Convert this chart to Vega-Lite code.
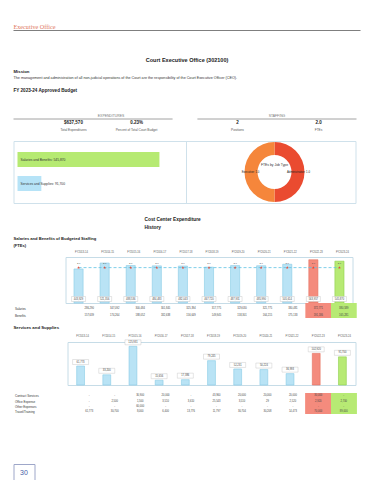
{
  "$schema": "https://vega.github.io/schema/vega-lite/v6.json",
  "background": "white",
  "padding": {"left": 12.5, "top": 23, "right": 0, "bottom": 0},
  "spacing": 0,
  "bounds": "flush",
  "config": {
    "view": {"stroke": null},
    "font": "Liberation Sans",
    "text": {"font": "Liberation Sans"},
    "title": {"font": "Liberation Sans", "subtitleFont": "Liberation Sans", "color": "#1a1a1a"},
    "axis": {"labelFont": "Liberation Sans", "titleFont": "Liberation Sans"}
  },
  "datasets": {
    "kpi": [
      {"group": "EXPENDITURES", "metric": "Total Expenditures", "value": "$637,570"},
      {"group": "EXPENDITURES", "metric": "Percent of Total Court Budget", "value": "0.23%"},
      {"group": "STAFFING", "metric": "Positions", "value": "2"},
      {"group": "STAFFING", "metric": "FTEs", "value": "2.0"}
    ],
    "groups": [{"group": "EXPENDITURES"}, {"group": "STAFFING"}],
    "budget": [
      {"category": "Salaries and Benefits", "amount": 545870, "label": "Salaries and Benefits: 545,870"},
      {"category": "Services and Supplies", "amount": 91700, "label": "Services and Supplies: 91,700"}
    ],
    "jobs": [
      {"panel": "Staffing", "jobType": "Administrative", "fte": 1.0, "label": "Administrative: 1.0"},
      {"panel": "Staffing", "jobType": "Executive", "fte": 1.0, "label": "Executive: 1.0"}
    ],
    "donutTitle": [{"panel": "Staffing", "chart": "FTEs by Job Type"}],
    "salaries": [
      {"fy": "FY2013-14", "total": 443929, "fte": 2.0, "period": "History"},
      {"fy": "FY2014-15", "total": 521356, "fte": 2.0, "period": "History"},
      {"fy": "FY2015-16", "total": 488536, "fte": 2.0, "period": "History"},
      {"fy": "FY2016-17", "total": 484483, "fte": 2.0, "period": "History"},
      {"fy": "FY2017-18", "total": 482043, "fte": 2.0, "period": "History"},
      {"fy": "FY2018-19", "total": 467720, "fte": 2.0, "period": "History"},
      {"fy": "FY2019-20", "total": 487931, "fte": 2.0, "period": "History"},
      {"fy": "FY2020-21", "total": 485990, "fte": 2.0, "period": "History"},
      {"fy": "FY2021-22", "total": 505614, "fte": 2.0, "period": "History"},
      {"fy": "FY2022-23", "total": 563957, "fte": 2.0, "period": "Prior Year"},
      {"fy": "FY2023-24", "total": 545870, "fte": 2.0, "period": "Current Year"}
    ],
    "salaryTable": [
      {"fy": "FY2013-14", "item": "Salaries", "amount": 286290, "period": "History"},
      {"fy": "FY2014-15", "item": "Salaries", "amount": 347092, "period": "History"},
      {"fy": "FY2015-16", "item": "Salaries", "amount": 300484, "period": "History"},
      {"fy": "FY2016-17", "item": "Salaries", "amount": 301845, "period": "History"},
      {"fy": "FY2017-18", "item": "Salaries", "amount": 325394, "period": "History"},
      {"fy": "FY2018-19", "item": "Salaries", "amount": 317775, "period": "History"},
      {"fy": "FY2019-20", "item": "Salaries", "amount": 329630, "period": "History"},
      {"fy": "FY2020-21", "item": "Salaries", "amount": 321775, "period": "History"},
      {"fy": "FY2021-22", "item": "Salaries", "amount": 330481, "period": "History"},
      {"fy": "FY2022-23", "item": "Salaries", "amount": 372771, "period": "Prior Year"},
      {"fy": "FY2023-24", "item": "Salaries", "amount": 380589, "period": "Current Year"},
      {"fy": "FY2013-14", "item": "Benefits", "amount": 157639, "period": "History"},
      {"fy": "FY2014-15", "item": "Benefits", "amount": 174264, "period": "History"},
      {"fy": "FY2015-16", "item": "Benefits", "amount": 188052, "period": "History"},
      {"fy": "FY2016-17", "item": "Benefits", "amount": 182638, "period": "History"},
      {"fy": "FY2017-18", "item": "Benefits", "amount": 156649, "period": "History"},
      {"fy": "FY2018-19", "item": "Benefits", "amount": 149945, "period": "History"},
      {"fy": "FY2019-20", "item": "Benefits", "amount": 158301, "period": "History"},
      {"fy": "FY2020-21", "item": "Benefits", "amount": 164215, "period": "History"},
      {"fy": "FY2021-22", "item": "Benefits", "amount": 175133, "period": "History"},
      {"fy": "FY2022-23", "item": "Benefits", "amount": 191186, "period": "Prior Year"},
      {"fy": "FY2023-24", "item": "Benefits", "amount": 165281, "period": "Current Year"}
    ],
    "services": [
      {"fy": "FY2013-14", "total": 61773, "period": "History"},
      {"fy": "FY2014-15", "total": 33200, "period": "History"},
      {"fy": "FY2015-16", "total": 125931, "period": "History"},
      {"fy": "FY2016-17", "total": 15656, "period": "History"},
      {"fy": "FY2017-18", "total": 17386, "period": "History"},
      {"fy": "FY2018-19", "total": 79245, "period": "History"},
      {"fy": "FY2019-20", "total": 52231, "period": "History"},
      {"fy": "FY2020-21", "total": 50224, "period": "History"},
      {"fy": "FY2021-22", "total": 36993, "period": "History"},
      {"fy": "FY2022-23", "total": 102920, "period": "Prior Year"},
      {"fy": "FY2023-24", "total": 91700, "period": "Current Year"}
    ],
    "servicesTable": [
      {"fy": "FY2013-14", "item": "Contract Services", "amount": 0, "period": "History"},
      {"fy": "FY2014-15", "item": "Contract Services", "amount": 0, "period": "History"},
      {"fy": "FY2015-16", "item": "Contract Services", "amount": 30900, "period": "History"},
      {"fy": "FY2016-17", "item": "Contract Services", "amount": 20000, "period": "History"},
      {"fy": "FY2017-18", "item": "Contract Services", "amount": 0, "period": "History"},
      {"fy": "FY2018-19", "item": "Contract Services", "amount": 43960, "period": "History"},
      {"fy": "FY2019-20", "item": "Contract Services", "amount": 20000, "period": "History"},
      {"fy": "FY2020-21", "item": "Contract Services", "amount": 20000, "period": "History"},
      {"fy": "FY2021-22", "item": "Contract Services", "amount": 20000, "period": "History"},
      {"fy": "FY2022-23", "item": "Contract Services", "amount": 30000, "period": "Prior Year"},
      {"fy": "FY2023-24", "item": "Contract Services", "amount": 0, "period": "Current Year"},
      {"fy": "FY2013-14", "item": "Office Expense", "amount": 0, "period": "History"},
      {"fy": "FY2014-15", "item": "Office Expense", "amount": 2500, "period": "History"},
      {"fy": "FY2015-16", "item": "Office Expense", "amount": 1500, "period": "History"},
      {"fy": "FY2016-17", "item": "Office Expense", "amount": 3510, "period": "History"},
      {"fy": "FY2017-18", "item": "Office Expense", "amount": 3610, "period": "History"},
      {"fy": "FY2018-19", "item": "Office Expense", "amount": 25543, "period": "History"},
      {"fy": "FY2019-20", "item": "Office Expense", "amount": 3510, "period": "History"},
      {"fy": "FY2020-21", "item": "Office Expense", "amount": 29, "period": "History"},
      {"fy": "FY2021-22", "item": "Office Expense", "amount": 2520, "period": "History"},
      {"fy": "FY2022-23", "item": "Office Expense", "amount": 2920, "period": "Prior Year"},
      {"fy": "FY2023-24", "item": "Office Expense", "amount": 2700, "period": "Current Year"},
      {"fy": "FY2013-14", "item": "Other Expenses", "amount": 0, "period": "History"},
      {"fy": "FY2014-15", "item": "Other Expenses", "amount": 0, "period": "History"},
      {"fy": "FY2015-16", "item": "Other Expenses", "amount": 60000, "period": "History"},
      {"fy": "FY2016-17", "item": "Other Expenses", "amount": 0, "period": "History"},
      {"fy": "FY2017-18", "item": "Other Expenses", "amount": 0, "period": "History"},
      {"fy": "FY2018-19", "item": "Other Expenses", "amount": 0, "period": "History"},
      {"fy": "FY2019-20", "item": "Other Expenses", "amount": 0, "period": "History"},
      {"fy": "FY2020-21", "item": "Other Expenses", "amount": 0, "period": "History"},
      {"fy": "FY2021-22", "item": "Other Expenses", "amount": 0, "period": "History"},
      {"fy": "FY2022-23", "item": "Other Expenses", "amount": 0, "period": "Prior Year"},
      {"fy": "FY2023-24", "item": "Other Expenses", "amount": 0, "period": "Current Year"},
      {"fy": "FY2013-14", "item": "Travel/Training", "amount": 61773, "period": "History"},
      {"fy": "FY2014-15", "item": "Travel/Training", "amount": 30700, "period": "History"},
      {"fy": "FY2015-16", "item": "Travel/Training", "amount": 8000, "period": "History"},
      {"fy": "FY2016-17", "item": "Travel/Training", "amount": 6400, "period": "History"},
      {"fy": "FY2017-18", "item": "Travel/Training", "amount": 13776, "period": "History"},
      {"fy": "FY2018-19", "item": "Travel/Training", "amount": 11797, "period": "History"},
      {"fy": "FY2019-20", "item": "Travel/Training", "amount": 30704, "period": "History"},
      {"fy": "FY2020-21", "item": "Travel/Training", "amount": 30208, "period": "History"},
      {"fy": "FY2021-22", "item": "Travel/Training", "amount": 14473, "period": "History"},
      {"fy": "FY2022-23", "item": "Travel/Training", "amount": 70000, "period": "Prior Year"},
      {"fy": "FY2023-24", "item": "Travel/Training", "amount": 89000, "period": "Current Year"}
    ],
    "page": [{"page": "30"}]
  },
  "vconcat": [
    {
      "width": 347, "height": 1,
      "view": {"fill": "#7f7f7f", "stroke": null},
      "title": {"text": "Executive Office", "anchor": "start", "frame": "group", "font": "Liberation Serif", "fontSize": 6.2, "fontWeight": "normal", "color": "#e0775c", "offset": 0},
      "data": {"values": []}, "mark": "point"
    },
    {"width": 347, "height": 33, "data": {"values": []}, "mark": "point"},
    {
      "width": 347, "height": 17,
      "title": {"text": "Court Executive Office (302100)", "anchor": "middle", "frame": "group", "fontSize": 5.5, "fontWeight": "bold", "offset": 0.8},
      "data": {"values": []}, "mark": "point"
    },
    {
      "width": 347, "height": 12,
      "title": {"text": "Mission", "subtitle": "The management and administration of all non-judicial operations of the Court are the responsibility of the Court Executive Officer (CEO).", "anchor": "start", "frame": "group", "fontSize": 4.3, "fontWeight": "bold", "subtitleFontSize": 3.7, "subtitleColor": "#333333", "subtitlePadding": 2.5, "offset": 0.9},
      "data": {"values": []}, "mark": "point"
    },
    {
      "width": 347, "height": 15,
      "title": {"text": "FY 2023-24 Approved Budget", "anchor": "start", "frame": "group", "fontSize": 4.6, "fontWeight": "bold", "offset": 0.5},
      "data": {"values": []}, "mark": "point"
    },
    {
      "width": 343, "height": 22,
      "data": {"name": "kpi"},
      "layer": [
        {
          "transform": [{"filter": "datum.group === 'EXPENDITURES'"}],
          "mark": {"type": "text", "fontSize": 4.5, "fontWeight": "bold", "dy": 4, "color": "#1a1a1a"},
          "encoding": {
            "x": {"field": "metric", "type": "nominal", "sort": null, "scale": {"type": "point", "domain": ["Total Expenditures", "Percent of Total Court Budget"], "range": [60, 123], "padding": 0}, "axis": null},
            "text": {"field": "value"}
          }
        },
        {
          "transform": [{"filter": "datum.group === 'EXPENDITURES'"}],
          "mark": {"type": "text", "fontSize": 3.2, "dy": 10.5, "color": "#555555"},
          "encoding": {
            "x": {"field": "metric", "type": "nominal", "sort": null, "scale": {"type": "point", "domain": ["Total Expenditures", "Percent of Total Court Budget"], "range": [60, 123], "padding": 0}, "axis": null},
            "text": {"field": "metric"}
          }
        },
        {
          "transform": [{"filter": "datum.group === 'STAFFING'"}],
          "mark": {"type": "text", "fontSize": 4.5, "fontWeight": "bold", "dy": 4, "color": "#1a1a1a"},
          "encoding": {
            "x": {"field": "metric", "type": "nominal", "sort": null, "scale": {"type": "point", "domain": ["Positions", "FTEs"], "range": [224, 305], "padding": 0}, "axis": null},
            "text": {"field": "value"}
          }
        },
        {
          "transform": [{"filter": "datum.group === 'STAFFING'"}],
          "mark": {"type": "text", "fontSize": 3.2, "dy": 10.5, "color": "#555555"},
          "encoding": {
            "x": {"field": "metric", "type": "nominal", "sort": null, "scale": {"type": "point", "domain": ["Positions", "FTEs"], "range": [224, 305], "padding": 0}, "axis": null},
            "text": {"field": "metric"}
          }
        },
        {
          "data": {"name": "groups"},
          "transform": [{"filter": "datum.group === 'EXPENDITURES'"}],
          "mark": {"type": "text", "fontSize": 3.4, "dy": -3, "dx": 18, "color": "#777777"},
          "encoding": {
            "x": {"field": "group", "type": "nominal", "sort": null, "scale": {"type": "band", "domain": ["EXPENDITURES", "STAFFING"], "paddingInner": 0.135, "paddingOuter": 0}, "axis": null},
            "text": {"field": "group"}
          }
        },
        {
          "data": {"name": "groups"},
          "transform": [{"filter": "datum.group === 'STAFFING'"}],
          "mark": {"type": "text", "fontSize": 3.4, "dy": -3, "color": "#777777"},
          "encoding": {
            "x": {"field": "group", "type": "nominal", "sort": null, "scale": {"type": "band", "domain": ["EXPENDITURES", "STAFFING"], "paddingInner": 0.135, "paddingOuter": 0}, "axis": null},
            "text": {"field": "group"}
          }
        },
        {
          "data": {"name": "groups"},
          "mark": {"type": "rule", "color": "#8c8c8c", "strokeWidth": 0.8},
          "encoding": {
            "x": {"field": "group", "type": "nominal", "sort": null, "bandPosition": 0, "scale": {"type": "band", "domain": ["EXPENDITURES", "STAFFING"], "paddingInner": 0.135, "paddingOuter": 0}, "axis": null},
            "x2": {"field": "group", "bandPosition": 1}
          }
        }
      ],
      "resolve": {"scale": {"x": "independent"}}
    },
    {"width": 343, "height": 11, "data": {"values": []}, "mark": "point"},
    {
      "width": 342, "height": 62,
      "view": {"stroke": "#cfe1eb", "strokeWidth": 1},
      "layer": [
        {
          "data": {"name": "budget"},
          "layer": [
            {
              "mark": {"type": "bar"},
              "encoding": {
                "y": {"field": "category", "type": "nominal", "sort": null, "scale": {"paddingInner": 0.375, "paddingOuter": 0.48, "align": 0.478}, "axis": null},
                "x": {"field": "amount", "type": "quantitative", "scale": {"domain": [0, 603000], "range": [4, 173]}, "axis": null},
                "color": {"field": "category", "type": "nominal", "scale": {"domain": ["Salaries and Benefits", "Services and Supplies"], "range": ["#b6ea72", "#b6e3f7"]}, "legend": null}
              }
            },
            {
              "mark": {"type": "text", "align": "left", "dx": 3, "fontSize": 3.3, "color": "#333333"},
              "encoding": {
                "y": {"field": "category", "type": "nominal", "sort": null},
                "x": {"datum": 0},
                "text": {"field": "label"}
              }
            }
          ]
        },
        {
          "data": {"name": "jobs"},
          "layer": [
            {
              "mark": {"type": "rule", "color": "#cfe1eb", "strokeWidth": 1},
              "encoding": {
                "x": {"field": "panel", "type": "nominal", "bandPosition": 0, "scale": {"type": "band", "domain": ["Expenditures", "Staffing"], "range": [-3, 349], "paddingInner": 0, "paddingOuter": 0}, "axis": null}
              }
            },
            {
              "mark": {"type": "arc", "outerRadius": 30, "innerRadius": 17},
              "encoding": {
                "x": {"field": "panel", "type": "nominal"},
                "theta": {"field": "fte", "type": "quantitative", "stack": true},
                "color": {"field": "jobType", "type": "nominal", "scale": {"domain": ["Administrative", "Executive"], "range": ["#ea4b30", "#f5863b"]}, "legend": null}
              }
            },
            {
              "mark": {"type": "text", "radius": 24, "fontSize": 2.8, "color": "#222222"},
              "encoding": {
                "x": {"field": "panel", "type": "nominal"},
                "theta": {"field": "fte", "type": "quantitative", "stack": true},
                "detail": {"field": "jobType"},
                "text": {"field": "label"}
              }
            },
            {
              "data": {"name": "donutTitle"},
              "mark": {"type": "text", "fontSize": 3.4, "dy": -7, "color": "#333333"},
              "encoding": {
                "x": {"field": "panel", "type": "nominal"},
                "text": {"field": "chart"}
              }
            }
          ]
        }
      ],
      "resolve": {"scale": {"x": "independent", "color": "independent"}}
    },
    {"width": 343, "height": 27, "data": {"values": []}, "mark": "point"},
    {
      "width": 343, "height": 27,
      "title": {"text": ["Cost Center Expenditure", "History"], "anchor": "start", "frame": "group", "dx": 131, "fontSize": 4.8, "fontWeight": "bold", "lineHeight": 8, "offset": 0.5},
      "data": {"values": []}, "mark": "point"
    },
    {
      "width": 339, "height": 46,
      "title": {"text": ["Salaries and Benefits of Budgeted Staffing", "(FTEs)"], "anchor": "start", "frame": "group", "fontSize": 4.1, "fontWeight": "bold", "lineHeight": 7, "offset": 3.6},
      "data": {"name": "salaries"},
      "layer": [
        {
          "layer": [
            {
              "mark": {"type": "bar", "strokeWidth": 0.6},
              "encoding": {
                "x": {"field": "fy", "type": "nominal", "sort": null, "scale": {"domain": ["FY2013-14", "FY2014-15", "FY2015-16", "FY2016-17", "FY2017-18", "FY2018-19", "FY2019-20", "FY2020-21", "FY2021-22", "FY2022-23", "FY2023-24"], "range": [52, 339], "paddingInner": 0.65, "paddingOuter": 0.325}, "axis": {"orient": "top", "title": null, "labelFontSize": 2.6, "labelColor": "#555555", "labelAngle": 0, "labelPadding": 2.7, "ticks": false, "domainColor": "#c6dce7", "domainWidth": 1, "labelOffset": 3}},
                "y": {"field": "total", "type": "quantitative", "scale": {"domain": [0, 596000]}, "axis": {"orient": "left", "offset": -52, "labels": false, "ticks": false, "grid": false, "title": null, "domainColor": "#c6dce7", "domainWidth": 1}},
                "color": {"field": "period", "type": "nominal", "scale": {"domain": ["History", "Prior Year", "Current Year"], "range": ["#b9e3f5", "#f48b7d", "#b7ea74"]}, "legend": null},
                "stroke": {"field": "period", "type": "nominal", "scale": {"domain": ["History", "Prior Year", "Current Year"], "range": ["#88cbe6", "#e3705f", "#8fd04d"]}, "legend": null}
              }
            },
            {
              "mark": {"type": "bar", "width": 14, "yOffset": -1.5, "y2Offset": -6.5, "fill": "white", "stroke": "#bdbdbd", "strokeWidth": 0.4},
              "encoding": {
                "x": {"field": "fy", "type": "nominal", "sort": null},
                "y": {"datum": 0},
                "y2": {"datum": 0}
              }
            },
            {
              "mark": {"type": "text", "fontSize": 2.6, "dy": -4, "color": "#444444"},
              "encoding": {
                "x": {"field": "fy", "type": "nominal", "sort": null},
                "y": {"datum": 0},
                "text": {"field": "total", "type": "quantitative", "format": ","}
              }
            }
          ]
        },
        {
          "layer": [
            {
              "mark": {"type": "line", "strokeDash": [3, 2], "color": "#5ec2e3", "strokeWidth": 0.8},
              "encoding": {
                "x": {"field": "fy", "type": "nominal", "sort": null, "axis": {"orient": "bottom", "labels": false, "ticks": false, "title": null, "domainColor": "#c6dce7", "domainWidth": 1}},
                "y": {"field": "fte", "type": "quantitative", "scale": {"domain": [0, 2.535]}, "axis": {"orient": "right", "labels": false, "ticks": false, "grid": false, "title": null, "domainColor": "#c6dce7", "domainWidth": 1}}
              }
            },
            {
              "mark": {"type": "point", "shape": "M0,-1L0.224,-0.309L0.951,-0.309L0.363,0.118L0.588,0.809L0,0.382L-0.588,0.809L-0.363,0.118L-0.951,-0.309L-0.224,-0.309Z", "filled": true, "color": "#e8432e", "size": 10, "opacity": 1},
              "encoding": {
                "x": {"field": "fy", "type": "nominal", "sort": null},
                "y": {"field": "fte", "type": "quantitative"}
              }
            },
            {
              "mark": {"type": "text", "fontSize": 2.4, "dy": -4.5, "color": "#555555"},
              "encoding": {
                "x": {"field": "fy", "type": "nominal", "sort": null},
                "y": {"field": "fte", "type": "quantitative"},
                "text": {"field": "fte", "type": "quantitative", "format": ".1f"}
              }
            }
          ]
        }
      ],
      "resolve": {"scale": {"y": "independent"}, "axis": {"x": "independent"}}
    },
    {
      "width": 343, "height": 15,
      "data": {"name": "salaryTable"},
      "layer": [
        {
          "transform": [{"filter": "datum.period !== 'History'"}],
          "mark": {"type": "rect"},
          "encoding": {
            "x": {"field": "fy", "type": "nominal", "sort": null, "scale": {"domain": ["FY2013-14", "FY2014-15", "FY2015-16", "FY2016-17", "FY2017-18", "FY2018-19", "FY2019-20", "FY2020-21", "FY2021-22", "FY2022-23", "FY2023-24"], "range": [63, 343], "paddingInner": 0, "paddingOuter": 0}, "axis": null},
            "color": {"field": "period", "type": "nominal", "scale": {"domain": ["History", "Prior Year", "Current Year"], "range": ["#b9e3f5", "#f48b7d", "#b7ea74"]}, "legend": null}
          }
        },
        {
          "mark": {"type": "text", "fontSize": 2.6, "color": "#444444"},
          "encoding": {
            "x": {"field": "fy", "type": "nominal", "sort": null},
            "y": {"field": "item", "type": "nominal", "sort": null, "scale": {"domain": ["Salaries", "Benefits"], "paddingInner": 0, "paddingOuter": 0.25, "align": 0.67}, "axis": {"orient": "left", "title": null, "domain": false, "ticks": false, "tickSize": 0, "labelAlign": "left", "labelPadding": -1, "labelFontSize": 3, "labelColor": "#333333"}},
            "text": {"condition": {"test": "datum.amount === 0", "value": "-"}, "field": "amount", "type": "quantitative", "format": ","}
          }
        }
      ]
    },
    {"width": 343, "height": 24, "data": {"values": []}, "mark": "point"},
    {
      "width": 342, "height": 43,
      "title": {"text": "Services and Supplies", "anchor": "start", "frame": "group", "fontSize": 4.3, "fontWeight": "bold", "offset": 5.2},
      "data": {"name": "services"},
      "layer": [
        {
          "mark": {"type": "bar", "strokeWidth": 0.6},
          "encoding": {
            "x": {"field": "fy", "type": "nominal", "sort": null, "scale": {"domain": ["FY2013-14", "FY2014-15", "FY2015-16", "FY2016-17", "FY2017-18", "FY2018-19", "FY2019-20", "FY2020-21", "FY2021-22", "FY2022-23", "FY2023-24"], "range": [54, 342], "paddingInner": 0.7, "paddingOuter": 0.35}, "axis": {"orient": "top", "title": null, "labelFontSize": 2.6, "labelColor": "#555555", "labelAngle": 0, "labelPadding": 4, "ticks": false, "domainColor": "#c6dce7", "domainWidth": 1, "labelOffset": 2}},
            "y": {"field": "total", "type": "quantitative", "scale": {"domain": [0, 140000]}, "axis": {"orient": "left", "offset": -54, "labels": false, "ticks": false, "grid": false, "title": null, "domainColor": "#c6dce7", "domainWidth": 1}},
            "color": {"field": "period", "type": "nominal", "scale": {"domain": ["History", "Prior Year", "Current Year"], "range": ["#b9e3f5", "#f48b7d", "#b7ea74"]}, "legend": null},
            "stroke": {"field": "period", "type": "nominal", "scale": {"domain": ["History", "Prior Year", "Current Year"], "range": ["#88cbe6", "#e3705f", "#8fd04d"]}, "legend": null}
          }
        },
        {
          "layer": [
            {
              "mark": {"type": "bar", "width": 16, "yOffset": -1.5, "y2Offset": -6.5, "fill": "white", "stroke": "#bdbdbd", "strokeWidth": 0.4},
              "encoding": {
                "x": {"field": "fy", "type": "nominal", "sort": null, "axis": {"orient": "bottom", "labels": false, "ticks": false, "title": null, "domainColor": "#c6dce7", "domainWidth": 1}},
                "y": {"field": "total", "type": "quantitative", "scale": {"domain": [0, 140000]}, "axis": {"orient": "right", "labels": false, "ticks": false, "grid": false, "title": null, "domainColor": "#c6dce7", "domainWidth": 1}},
                "y2": {"field": "total"}
              }
            },
            {
              "mark": {"type": "text", "fontSize": 2.6, "dy": -4, "color": "#444444"},
              "encoding": {
                "x": {"field": "fy", "type": "nominal", "sort": null},
                "y": {"field": "total", "type": "quantitative"},
                "text": {"field": "total", "type": "quantitative", "format": ","}
              }
            }
          ]
        }
      ],
      "resolve": {"scale": {"y": "independent"}, "axis": {"x": "independent"}}
    },
    {"width": 343, "height": 8, "data": {"values": []}, "mark": "point"},
    {
      "width": 343, "height": 21,
      "data": {"name": "servicesTable"},
      "layer": [
        {
          "transform": [{"filter": "datum.period !== 'History'"}],
          "mark": {"type": "rect"},
          "encoding": {
            "x": {"field": "fy", "type": "nominal", "sort": null, "scale": {"domain": ["FY2013-14", "FY2014-15", "FY2015-16", "FY2016-17", "FY2017-18", "FY2018-19", "FY2019-20", "FY2020-21", "FY2021-22", "FY2022-23", "FY2023-24"], "range": [63, 343], "paddingInner": 0, "paddingOuter": 0}, "axis": null},
            "color": {"field": "period", "type": "nominal", "scale": {"domain": ["History", "Prior Year", "Current Year"], "range": ["#b9e3f5", "#f48b7d", "#b7ea74"]}, "legend": null}
          }
        },
        {
          "mark": {"type": "text", "fontSize": 2.6, "color": "#444444"},
          "encoding": {
            "x": {"field": "fy", "type": "nominal", "sort": null},
            "y": {"field": "item", "type": "nominal", "sort": null, "scale": {"domain": ["Contract Services", "Office Expense", "Other Expenses", "Travel/Training"], "paddingInner": 0, "paddingOuter": 0.03}, "axis": {"orient": "left", "title": null, "domain": false, "ticks": false, "tickSize": 0, "labelAlign": "left", "labelPadding": -1, "labelFontSize": 3, "labelColor": "#333333"}},
            "text": {"condition": {"test": "datum.amount === 0", "value": "-"}, "field": "amount", "type": "quantitative", "format": ","}
          }
        }
      ]
    },
    {"width": 343, "height": 50, "data": {"values": []}, "mark": "point"},
    {
      "width": 21, "height": 17,
      "view": {"stroke": "#9ea7c9", "strokeWidth": 1},
      "data": {"name": "page"},
      "mark": {"type": "text", "fontSize": 7, "color": "#4a5fa8"},
      "encoding": {"text": {"field": "page"}}
    }
  ]
}
